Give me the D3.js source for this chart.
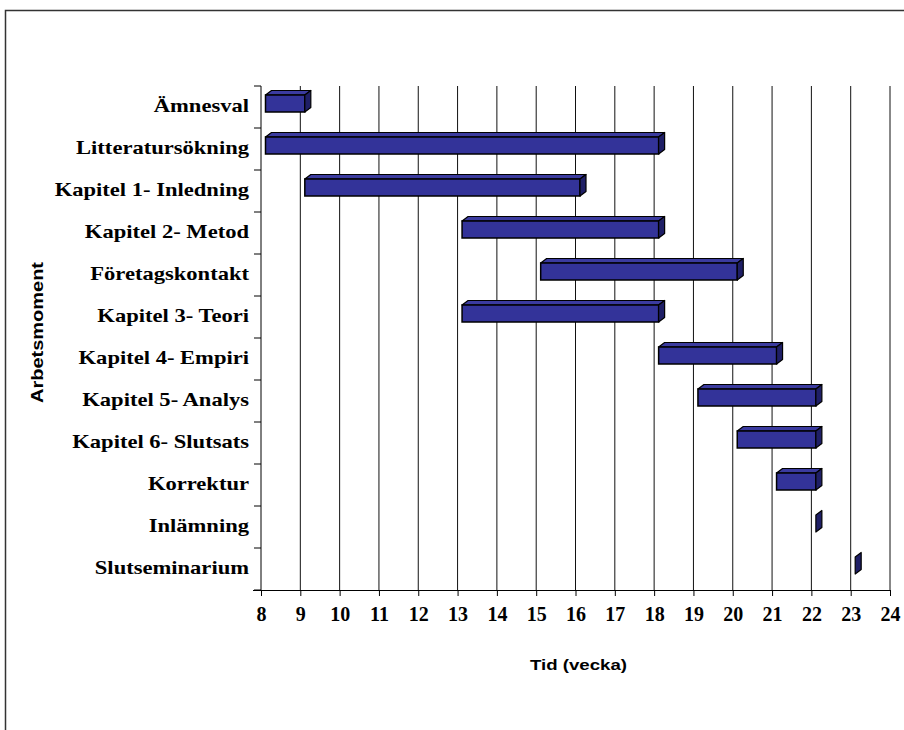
<!DOCTYPE html>
<html>
<head>
<meta charset="utf-8">
<script src="https://cdn.jsdelivr.net/npm/d3@7"></script>
<style>
  html, body { margin: 0; padding: 0; background: #fff; }
  svg { display: block; }
</style>
</head>
<body>
<svg id="chart" width="904" height="730"></svg>
<script>
// Arbetsmoment (tasks) with start and end week
const tasks = [
  "Ämnesval", "Litteratursökning", "Kapitel 1- Inledning", "Kapitel 2- Metod",
  "Företagskontakt", "Kapitel 3- Teori", "Kapitel 4- Empiri", "Kapitel 5- Analys",
  "Kapitel 6- Slutsats", "Korrektur", "Inlämning", "Slutseminarium"
];
const startWeek = [8, 8, 9, 13, 15, 13, 18, 19, 20, 21, 22, 23];
const endWeek   = [9, 18, 16, 18, 20, 18, 21, 22, 22, 22, 22, 23];
const weekTicks = [8, 9, 10, 11, 12, 13, 14, 15, 16, 17, 18, 19, 20, 21, 22, 23, 24];

const svg = d3.select("#chart");
const serif = "'Liberation Serif', 'Times New Roman', serif";
const sans = "'Liberation Sans', Arial, sans-serif";

// outer chart frame
svg.append("rect")
  .attr("x", 5.5).attr("y", 10.5)
  .attr("width", 910).attr("height", 740)
  .attr("fill", "none").attr("stroke", "#333").attr("stroke-width", 1.5);

const plot = { left: 261, right: 890, top: 86, bottom: 590 };

const x = d3.scaleLinear().domain([8, 24]).range([plot.left, plot.right]);
const y = d3.scaleBand().domain(tasks).range([plot.top, plot.bottom]);

// vertical gridlines
svg.append("g")
  .selectAll("line")
  .data(weekTicks.slice(1))
  .join("line")
  .attr("x1", d => x(d)).attr("x2", d => x(d))
  .attr("y1", plot.top).attr("y2", plot.bottom)
  .attr("stroke", "#111").attr("stroke-width", 1);

// x axis
const xAxis = d3.axisBottom(x).tickValues(weekTicks).tickSize(6).tickPadding(10).tickFormat(d3.format("d"));
const gx = svg.append("g").attr("transform", `translate(0,${plot.bottom})`).call(xAxis);
gx.select(".domain").attr("d", `M${plot.left - 8},0.5H${plot.right}`).attr("stroke", "#000");
gx.selectAll(".tick line").attr("stroke", "#000");
gx.selectAll(".tick text")
  .attr("font-family", serif)
  .attr("font-weight", "bold").attr("font-size", 20).attr("fill", "#000")
  .attr("dy", "0.75em");

// y axis: ticks at category boundaries
const boundaries = tasks.map(t => y(t)).concat([plot.bottom]);
const gy = svg.append("g");
gy.append("line")
  .attr("x1", plot.left).attr("x2", plot.left)
  .attr("y1", plot.top).attr("y2", plot.bottom)
  .attr("stroke", "#000");
gy.selectAll("line.tk")
  .data(boundaries)
  .join("line").attr("class", "tk")
  .attr("x1", plot.left - 7).attr("x2", plot.left)
  .attr("y1", d => d).attr("y2", d => d)
  .attr("stroke", "#000");
gy.selectAll("text")
  .data(tasks)
  .join("text")
  .attr("transform", d => `translate(249,${y(d) + y.bandwidth() / 2 - 2}) scale(1.14,1)`)
  .attr("dy", "0.35em")
  .attr("text-anchor", "end")
  .attr("font-family", serif)
  .attr("font-weight", "bold").attr("font-size", 19.8).attr("fill", "#000")
  .text(d => d);

// 3D bars: front face, top face, right side face
const dx = 6, dy = 4.5, barH = 17, shift = 4.5;
const rows = tasks.map((t, i) => ({ task: t, s: startWeek[i], e: endWeek[i] }));
const bars = svg.append("g").selectAll("g").data(rows).join("g");

bars.each(function (d) {
  const g = d3.select(this);
  const x0 = x(d.s) + shift, x1 = x(d.e) + shift;
  const yc = y(d.task) + y.bandwidth() / 2 - 3.5;
  const y0 = yc - barH / 2, y1 = yc + barH / 2;
  if (x1 > x0) {
    g.append("path")
      .attr("d", `M${x0},${y0}L${x0 + dx},${y0 - dy}L${x1 + dx},${y0 - dy}L${x1},${y0}Z`)
      .attr("fill", "#3b3b9f").attr("stroke", "#000").attr("stroke-width", 1.2).attr("stroke-linejoin", "round");
    g.append("rect")
      .attr("x", x0).attr("y", y0).attr("width", x1 - x0).attr("height", barH)
      .attr("fill", "#333399").attr("stroke", "#000").attr("stroke-width", 1.5);
  }
  g.append("path")
    .attr("d", `M${x1},${y0}L${x1 + dx},${y0 - dy}L${x1 + dx},${y1 - dy}L${x1},${y1}Z`)
    .attr("fill", "#1f1f66").attr("stroke", "#000").attr("stroke-width", 1.2).attr("stroke-linejoin", "round");
});

// axis titles
svg.append("text")
  .attr("x", 530).attr("y", 670)
  .attr("textLength", 97).attr("lengthAdjust", "spacingAndGlyphs")
  .attr("font-family", sans)
  .attr("font-weight", "bold").attr("font-size", 15)
  .text("Tid (vecka)");
svg.append("text")
  .attr("transform", "translate(43,403) rotate(-90)")
  .attr("textLength", 141).attr("lengthAdjust", "spacingAndGlyphs")
  .attr("font-family", sans)
  .attr("font-weight", "bold").attr("font-size", 16)
  .text("Arbetsmoment");
</script>
</body>
</html>
